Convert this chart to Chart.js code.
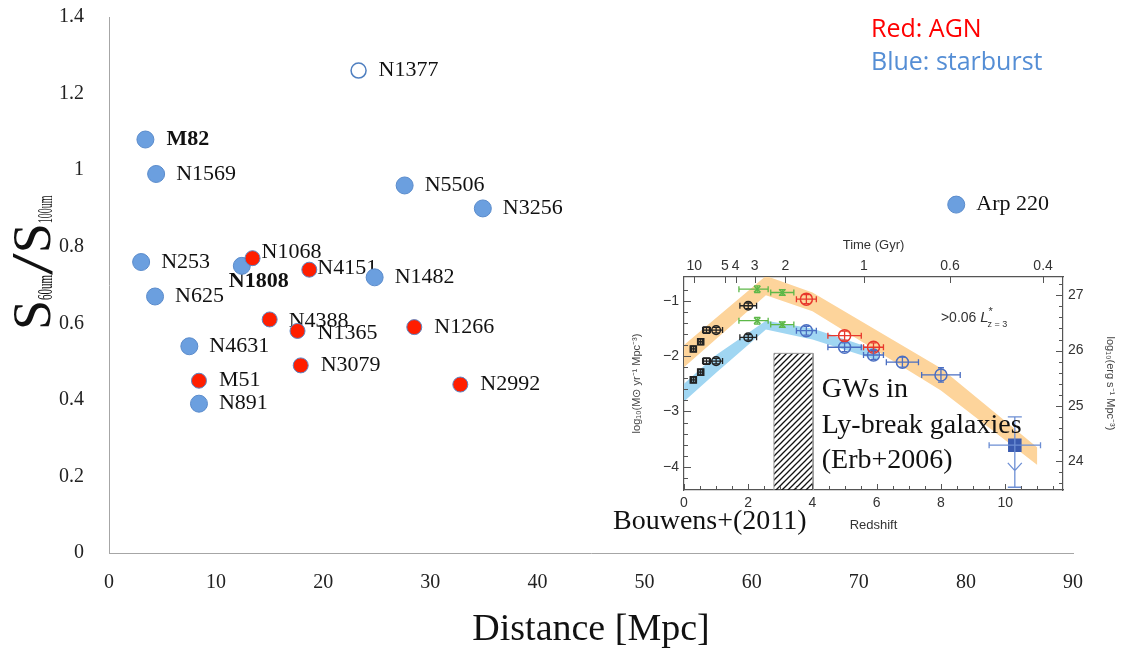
<!DOCTYPE html>
<html><head><meta charset="utf-8">
<script src="https://cdn.jsdelivr.net/npm/chart.js@4/dist/chart.umd.min.js"></script>
<style>
html,body{margin:0;padding:0;background:#fff;}
#wrap{position:relative;width:1124px;height:655px;overflow:hidden;}
#main{position:absolute;left:0;top:0;}
#inset{position:absolute;left:596px;top:226px;}
</style></head><body>
<div id="wrap">
<canvas id="main" width="1124" height="655"></canvas>
<canvas id="inset" width="528" height="316"></canvas>
</div>
<script>
// ---------------- main chart data ----------------
const starburstNames = ['M82','N1569','N5506','N3256','N253','N1808','N1482','N625','N4631','N891','Arp 220'];
const starburstDist  = [3.4, 4.4, 27.6, 34.9, 3.0, 12.4, 24.8, 4.3, 7.5, 8.4, 79.1];
const starburstRatio = [1.08, 0.99, 0.96, 0.90, 0.76, 0.75, 0.72, 0.67, 0.54, 0.39, 0.91];
const agnNames = ['N1068','N4151','N4388','N1365','N1266','N3079','M51','N2992'];
const agnDist  = [13.4, 18.7, 15.0, 17.6, 28.5, 17.9, 8.4, 32.8];
const agnRatio = [0.77, 0.74, 0.61, 0.58, 0.59, 0.49, 0.45, 0.44];
const openNames = ['N1377'];
const openDist  = [23.3];
const openRatio = [1.26];
const xTicksMain = [0,10,20,30,40,50,60,70,80,90];
const yTicksMain = [0,0.2,0.4,0.6,0.8,1,1.2,1.4];

// ---------------- inset data (Bouwens+2011) ----------------
const orangeBandZ  = [0, 2.55, 4.0, 8.0, 11.0];
const orangeBandHi = [-1.80, -0.55, -0.85, -2.22, -3.65];
const orangeBandLo = [-2.20, -0.90, -1.19, -2.62, -3.97];
const blueBandZ  = [0, 1.0, 2.55, 4.0, 6.05];
const blueBandHi = [-2.50, -1.98, -1.36, -1.50, -1.90];
const blueBandLo = [-2.82, -2.30, -1.52, -1.70, -2.08];
const blackZ      = [0.29, 0.52, 0.70, 1.00, 2.00];
const blackDustV  = [-1.87, -1.74, -1.53, -1.53, -1.09];
const blackRawV   = [-2.43, -2.29, -2.09, -2.09, -1.66];
const blackXErr   = [0.06, 0.06, 0.12, 0.20, 0.26];
const blackYErr   = [0.05, 0.05, 0.05, 0.05, 0.05];
const greenZ      = [2.28, 3.06];
const greenDustV  = [-0.79, -0.85];
const greenRawV   = [-1.36, -1.43];
const greenXErrLo = [0.57, 0.36];
const greenXErrHi = [0.34, 0.36];
const greenYErr   = [0.06, 0.05];
const redZ    = [3.81, 5.0, 5.9];
const redV    = [-0.97, -1.63, -1.84];
const redXErr = [0.31, 0.52, 0.31];
const redYErr = [0.08, 0.08, 0.08];
const blueZ    = [3.81, 5.0, 5.9, 6.8, 8.0];
const blueV    = [-1.54, -1.84, -1.98, -2.11, -2.34];
const blueXErr = [0.31, 0.52, 0.31, 0.50, 0.60];
const blueYErr = [0.08, 0.08, 0.08, 0.09, 0.13];
const limZ = [10.3];
const limV = [-3.61];
const limXErr = [0.8];
const limYErrHi = [0.51];
const limYErrLo = [0.76];
const gwBoxZ = [2.8, 4.02];
const gwBoxTop = -1.95;
const timeTickLabels = ['10','5','4','3','2','1','0.6','0.4'];
const timeTickZ      = [0.32, 1.27, 1.61, 2.20, 3.16, 5.60, 8.28, 11.18];
const zTicks   = [0,2,4,6,8,10];
const sfrTicks = [-4,-3,-2,-1];
const lumTicks = [24,25,26,27];

// ---------------- main chart ----------------
const labelDefault = {dx:20, dy:0, bold:false};
const labelTweaks = {
  'M82': {dx:21, dy:0, bold:true},
  'N1808': {dx:-13, dy:15, bold:true},
  'N1068': {dx:9, dy:-6},
  'N4151': {dx:8, dy:-1},
  'N4388': {dx:19, dy:2},
  'N1365': {dx:20, dy:2}
};
const SERIF = '"Liberation Serif", "Times New Roman", serif';
const SANS = '"Liberation Sans", Arial, sans-serif';

const nameLabels = {
  id:'nameLabels',
  beforeDatasetsDraw(chart){
    const ctx = chart.ctx;
    chart.data.datasets.forEach((ds,di)=>{
      const meta = chart.getDatasetMeta(di);
      meta.data.forEach((pt,i)=>{
        const name = ds.names[i];
        const st = Object.assign({}, labelDefault, labelTweaks[name]||{});
        ctx.save();
        ctx.font = (st.bold?'bold ':'') + '22px ' + SERIF;
        ctx.fillStyle = '#111';
        ctx.textBaseline = 'middle';
        ctx.textAlign = 'left';
        ctx.fillText(name, pt.x + st.dx, pt.y + st.dy);
        ctx.restore();
      });
    });
  }
};

const mainDecor = {
  id:'mainDecor',
  afterDraw(chart){
    const ctx = chart.ctx;
    ctx.save();
    ctx.textBaseline = 'middle'; ctx.textAlign = 'left';
    ctx.font = '25px "Open Sans", sans-serif';
    ctx.fillStyle = '#FF0000'; ctx.fillText('Red: AGN', 871, 30);
    ctx.fillStyle = '#558ED5'; ctx.fillText('Blue: starburst', 871, 63);
    ctx.restore();
    // y title S60um/S100um
    ctx.save();
    ctx.translate(50, 330);
    ctx.rotate(-Math.PI/2);
    ctx.fillStyle = '#111';
    ctx.textBaseline = 'alphabetic';
    ctx.textAlign = 'left';
    let x = 0;
    function part(text, size, sx, dy){
      ctx.save();
      ctx.font = size + 'px ' + SERIF;
      const w = ctx.measureText(text).width * sx;
      ctx.translate(x, dy);
      ctx.scale(sx, 1);
      ctx.fillText(text, 0, 0);
      ctx.restore();
      x += w;
    }
    part('S', 54, 1, 0);
    part('60um', 20, 0.55, 2);
    part('/', 60, 1.3, 2);
    part('S', 54, 1, 0);
    part('100um', 20, 0.5, 2);
    ctx.restore();
  }
};

new Chart(document.getElementById('main'), {
  type:'scatter',
  data:{datasets:[
    {label:'starburst', names:starburstNames,
     data: starburstDist.map((d,i)=>({x:d, y:starburstRatio[i]})),
     pointRadius:8.5, backgroundColor:'#6B9FDF', borderColor:'#5A8BCB', borderWidth:1, order:3},
    {label:'AGN', names:agnNames,
     data: agnDist.map((d,i)=>({x:d, y:agnRatio[i]})),
     pointRadius:7.5, backgroundColor:'#FF1E00', borderColor:'#5A86C5', borderWidth:1, order:2},
    {label:'open', names:openNames,
     data: openDist.map((d,i)=>({x:d, y:openRatio[i]})),
     pointRadius:7.5, backgroundColor:'#FFFFFF', borderColor:'#4F7FC0', borderWidth:1.5, order:1}
  ]},
  options:{
    responsive:false, animation:false,
    layout:{padding:{top:17, right:51, left:0, bottom:0}},
    plugins:{legend:{display:false}, tooltip:{enabled:false}},
    scales:{
      x:{type:'linear', min:0, max:90,
         afterBuildTicks:s=>{s.ticks = xTicksMain.map(v=>({value:v}));},
         afterFit:s=>{s.height = 102; s.paddingRight = 10; s.paddingLeft = 5;},
         grid:{display:false, drawTicks:false},
         border:{display:true, color:'#A6A6A6', width:1},
         ticks:{font:{family:SERIF, size:20}, color:'#222', padding:18, maxRotation:0},
         title:{display:true, text:'Distance [Mpc]', font:{family:SERIF, size:38}, color:'#111', padding:{top:0, bottom:2}}},
      y:{type:'linear', min:0, max:1.4,
         afterBuildTicks:s=>{s.ticks = yTicksMain.map(v=>({value:v}));},
         afterFit:s=>{s.width = 109; s.paddingTop = 10; s.paddingBottom = 10;},
         grid:{display:false, drawTicks:false},
         border:{display:true, color:'#A6A6A6', width:1},
         ticks:{font:{family:SERIF, size:20}, color:'#222', padding:25,
                callback:v=>String(Math.round(v*10)/10)}}
    }
  },
  plugins:[nameLabels, mainDecor]
});

// ---------------- inset chart ----------------
const insetCanvas = document.getElementById('inset');
function makeHatch(){
  const c = document.createElement('canvas'); c.width = 6; c.height = 6;
  const g = c.getContext('2d');
  g.strokeStyle = '#111'; g.lineWidth = 1.3;
  g.beginPath();
  g.moveTo(0,6); g.lineTo(6,0);
  g.moveTo(-1,1); g.lineTo(1,-1);
  g.moveTo(5,7); g.lineTo(7,5);
  g.stroke();
  return insetCanvas.getContext('2d').createPattern(c, 'repeat');
}
const pts = (xs, ys)=>xs.map((x,i)=>({x:x, y:ys[i]}));
const pointDs = (data, style, color, radius, err, extra)=>Object.assign({
  type:'line', data:data, showLine:false, pointStyle:style, pointRadius:radius,
  borderColor:color, pointBorderColor:color, backgroundColor:'rgba(0,0,0,0)',
  pointBackgroundColor:'rgba(0,0,0,0)', pointBorderWidth:1.5, err:err, errColor:color, order:1
}, extra||{});
const bandDs = (xs, ys, fill, color)=>({
  data:pts(xs, ys), fill:fill, backgroundColor:color||'rgba(0,0,0,0)',
  borderColor:'rgba(0,0,0,0)', borderWidth:0, pointRadius:0, order:20
});

const errorBars = {
  id:'errorBars',
  afterDatasetsDraw(chart){
    const ctx = chart.ctx, xs = chart.scales.x, ys = chart.scales.y;
    chart.data.datasets.forEach((ds,di)=>{
      if(!ds.err) return;
      const e = ds.err;
      ctx.save();
      ctx.strokeStyle = ds.errColor; ctx.lineWidth = 1.3;
      ds.data.forEach((p,i)=>{
        const px = xs.getPixelForValue(p.x), py = ys.getPixelForValue(p.y);
        const xl = xs.getPixelForValue(p.x - e.xLo[i]), xh = xs.getPixelForValue(p.x + e.xHi[i]);
        const yt = ys.getPixelForValue(p.y + e.yHi[i]), yb = ys.getPixelForValue(p.y - e.yLo[i]);
        const cx = e.capX||3, cy = e.capY||3;
        ctx.beginPath();
        ctx.moveTo(xl,py); ctx.lineTo(xh,py);
        ctx.moveTo(xl,py-cx); ctx.lineTo(xl,py+cx);
        ctx.moveTo(xh,py-cx); ctx.lineTo(xh,py+cx);
        ctx.moveTo(px,yt); ctx.lineTo(px,yb);
        ctx.moveTo(px-cy,yt); ctx.lineTo(px+cy,yt);
        ctx.moveTo(px-cy,yb); ctx.lineTo(px+cy,yb);
        if(e.arrow){
          const ay = ys.getPixelForValue(p.y - e.arrow), wing = ys.getPixelForValue(p.y - e.arrow + 0.14);
          ctx.moveTo(px-7,wing); ctx.lineTo(px,ay); ctx.lineTo(px+7,wing);
        }
        ctx.stroke();
      });
      ctx.restore();
    });
  }
};

const inwardTicks = {
  id:'inwardTicks',
  afterDraw(chart){
    const ctx = chart.ctx, a = chart.chartArea;
    const xs = chart.scales.x, xt = chart.scales.x2, yl = chart.scales.y, yr = chart.scales.y2;
    ctx.save();
    ctx.strokeStyle = '#555'; ctx.lineWidth = 1;
    ctx.beginPath();
    for(let v=0; v<=11.5001; v+=0.5){
      const p = Math.round(xs.getPixelForValue(v))+0.5;
      const L = (Math.abs(v%2)<1e-6) ? 6 : 4;
      ctx.moveTo(p, a.bottom); ctx.lineTo(p, a.bottom-L);
    }
    xt.ticks.forEach(t=>{
      const p = Math.round(xt.getPixelForValue(t.value))+0.5;
      ctx.moveTo(p, a.top); ctx.lineTo(p, a.top+6);
    });
    for(let v=-4.4; v<=-0.6; v+=0.2){
      const p = Math.round(yl.getPixelForValue(v))+0.5;
      const L = Math.abs(v-Math.round(v))<1e-6 ? 7 : 4;
      ctx.moveTo(a.left, p); ctx.lineTo(a.left+L, p);
    }
    for(let v=23.6; v<=27.3; v+=0.2){
      const p = Math.round(yr.getPixelForValue(v))+0.5;
      const L = Math.abs(v-Math.round(v))<1e-6 ? 7 : 4;
      ctx.moveTo(a.right, p); ctx.lineTo(a.right-L, p);
    }
    ctx.stroke();
    ctx.restore();
  }
};

const insetText = {
  id:'insetText',
  afterDraw(chart){
    const ctx = chart.ctx, xs = chart.scales.x, ys = chart.scales.y;
    ctx.save();
    ctx.fillStyle = '#111'; ctx.textBaseline = 'middle'; ctx.textAlign = 'left';
    ctx.font = '28px ' + SERIF;
    const gx = xs.getPixelForValue(4.29), gy = ys.getPixelForValue(-2.61);
    ctx.fillText('GWs in', gx, gy);
    ctx.fillText('Ly-break galaxies', gx, gy+36);
    ctx.fillText('(Erb+2006)', gx, gy+71);
    ctx.fillText('Bouwens+(2011)', 17, 296);
    ctx.fillStyle = '#333';
    let lx = xs.getPixelForValue(8.0), ly = ys.getPixelForValue(-1.31);
    ctx.font = '14px ' + SANS;
    ctx.fillText('>0.06 ', lx, ly); lx += ctx.measureText('>0.06 ').width;
    ctx.font = 'italic 15px ' + SANS;
    ctx.fillText('L', lx, ly); const lw = ctx.measureText('L').width;
    ctx.font = '11px ' + SANS;
    ctx.fillText('*', lx+lw, ly-6);
    ctx.font = '9px ' + SANS;
    ctx.fillText('z = 3', lx+lw-1, ly+7);
    ctx.restore();
  }
};

const tickFont = {family:SANS, size:14};
new Chart(insetCanvas, {
  type:'line',
  data:{datasets:[
    bandDs(orangeBandZ, orangeBandHi, '+1', '#FDD49B'),
    bandDs(orangeBandZ, orangeBandLo, false),
    bandDs(blueBandZ, blueBandHi, '+1', '#A0D6F2'),
    bandDs(blueBandZ, blueBandLo, false),
    {data:[{x:gwBoxZ[0], y:-4.42},{x:gwBoxZ[0], y:gwBoxTop},{x:gwBoxZ[1], y:gwBoxTop},{x:gwBoxZ[1], y:-4.42}],
     fill:'start', backgroundColor:makeHatch(), borderColor:'#999', borderWidth:1, pointRadius:0, order:10},
    pointDs(pts(blackZ, blackDustV), ['rect','rect','rect','circle','circle'], '#222', 4.3,
      {xLo:blackXErr, xHi:blackXErr, yLo:blackYErr, yHi:blackYErr}),
    pointDs(pts(blackZ, blackRawV), ['rect','rect','rect','circle','circle'], '#222', 4.3,
      {xLo:blackXErr, xHi:blackXErr, yLo:blackYErr, yHi:blackYErr}),
    pointDs(pts(greenZ, greenDustV), 'crossRot', '#5DB848', 4.5,
      {xLo:greenXErrLo, xHi:greenXErrHi, yLo:greenYErr, yHi:greenYErr}),
    pointDs(pts(greenZ, greenRawV), 'crossRot', '#5DB848', 4.5,
      {xLo:greenXErrLo, xHi:greenXErrHi, yLo:greenYErr, yHi:greenYErr}),
    pointDs(pts(redZ, redV), 'circle', '#E8372C', 6,
      {xLo:redXErr, xHi:redXErr, yLo:redYErr, yHi:redYErr}),
    pointDs(pts(blueZ, blueV), 'circle', '#4A6EC2', 6,
      {xLo:blueXErr, xHi:blueXErr, yLo:blueYErr, yHi:blueYErr}),
    pointDs(pts(limZ, limV), 'rect', '#6C8ED4', 8.5,
      {xLo:limXErr, xHi:limXErr, yLo:limYErrLo, yHi:limYErrHi, arrow:0.46, capX:3, capY:7},
      {pointBackgroundColor:'#3A5BB0', pointBorderColor:'#3A5BB0'})
  ]},
  options:{
    responsive:false, animation:false,
    layout:{padding:0},
    plugins:{legend:{display:false}, tooltip:{enabled:false}},
    scales:{
      x:{type:'linear', position:'bottom', min:0, max:11.8,
         afterBuildTicks:s=>{s.ticks = zTicks.map(v=>({value:v}));},
         afterFit:s=>{s.height = 52;},
         grid:{display:false, drawTicks:false},
         border:{display:true, color:'#555', width:1.2},
         ticks:{font:tickFont, color:'#333', padding:4.6, maxRotation:0},
         title:{display:true, text:'Redshift', font:{family:SANS, size:13}, color:'#333', padding:{top:0, bottom:9.2}}},
      x2:{type:'linear', axis:'x', position:'top', min:0, max:11.8,
         afterBuildTicks:s=>{s.ticks = timeTickZ.map(v=>({value:v}));},
         afterFit:s=>{s.height = 51;},
         grid:{display:false, drawTicks:false},
         border:{display:true, color:'#555', width:1.2},
         ticks:{font:tickFont, color:'#333', padding:2.6, maxRotation:0, autoSkip:false,
                callback:(v,i)=>timeTickLabels[i]},
         title:{display:true, text:'Time (Gyr)', font:{family:SANS, size:13}, color:'#333', padding:{top:11.2, bottom:0}}},
      y:{type:'linear', position:'left', min:-4.42, max:-0.57,
         afterBuildTicks:s=>{s.ticks = sfrTicks.map(v=>({value:v}));},
         afterFit:s=>{s.width = 88;},
         grid:{display:false, drawTicks:false},
         border:{display:true, color:'#555', width:1.2},
         ticks:{font:tickFont, color:'#333', padding:5, callback:v=>'\u2212'+Math.abs(v)},
         title:{display:true, text:'log\u2081\u2080(M\u2299 yr\u207B\u00B9 Mpc\u207B\u00B3)', font:{family:SANS, size:11}, color:'#444', padding:{top:34.4, bottom:0}}},
      y2:{type:'linear', axis:'y', position:'right', min:23.48, max:27.33,
         afterBuildTicks:s=>{s.ticks = lumTicks.map(v=>({value:v}));},
         afterFit:s=>{s.width = 61;},
         grid:{display:false, drawTicks:false},
         border:{display:true, color:'#555', width:1.2},
         ticks:{font:tickFont, color:'#333', padding:5},
         title:{display:true, text:'log\u2081\u2080(erg s\u207B\u00B9 Mpc\u207B\u00B3)', font:{family:SANS, size:11}, color:'#444', padding:{top:7.4, bottom:0}}}
    }
  },
  plugins:[errorBars, inwardTicks, insetText]
});
</script>
</body></html>
